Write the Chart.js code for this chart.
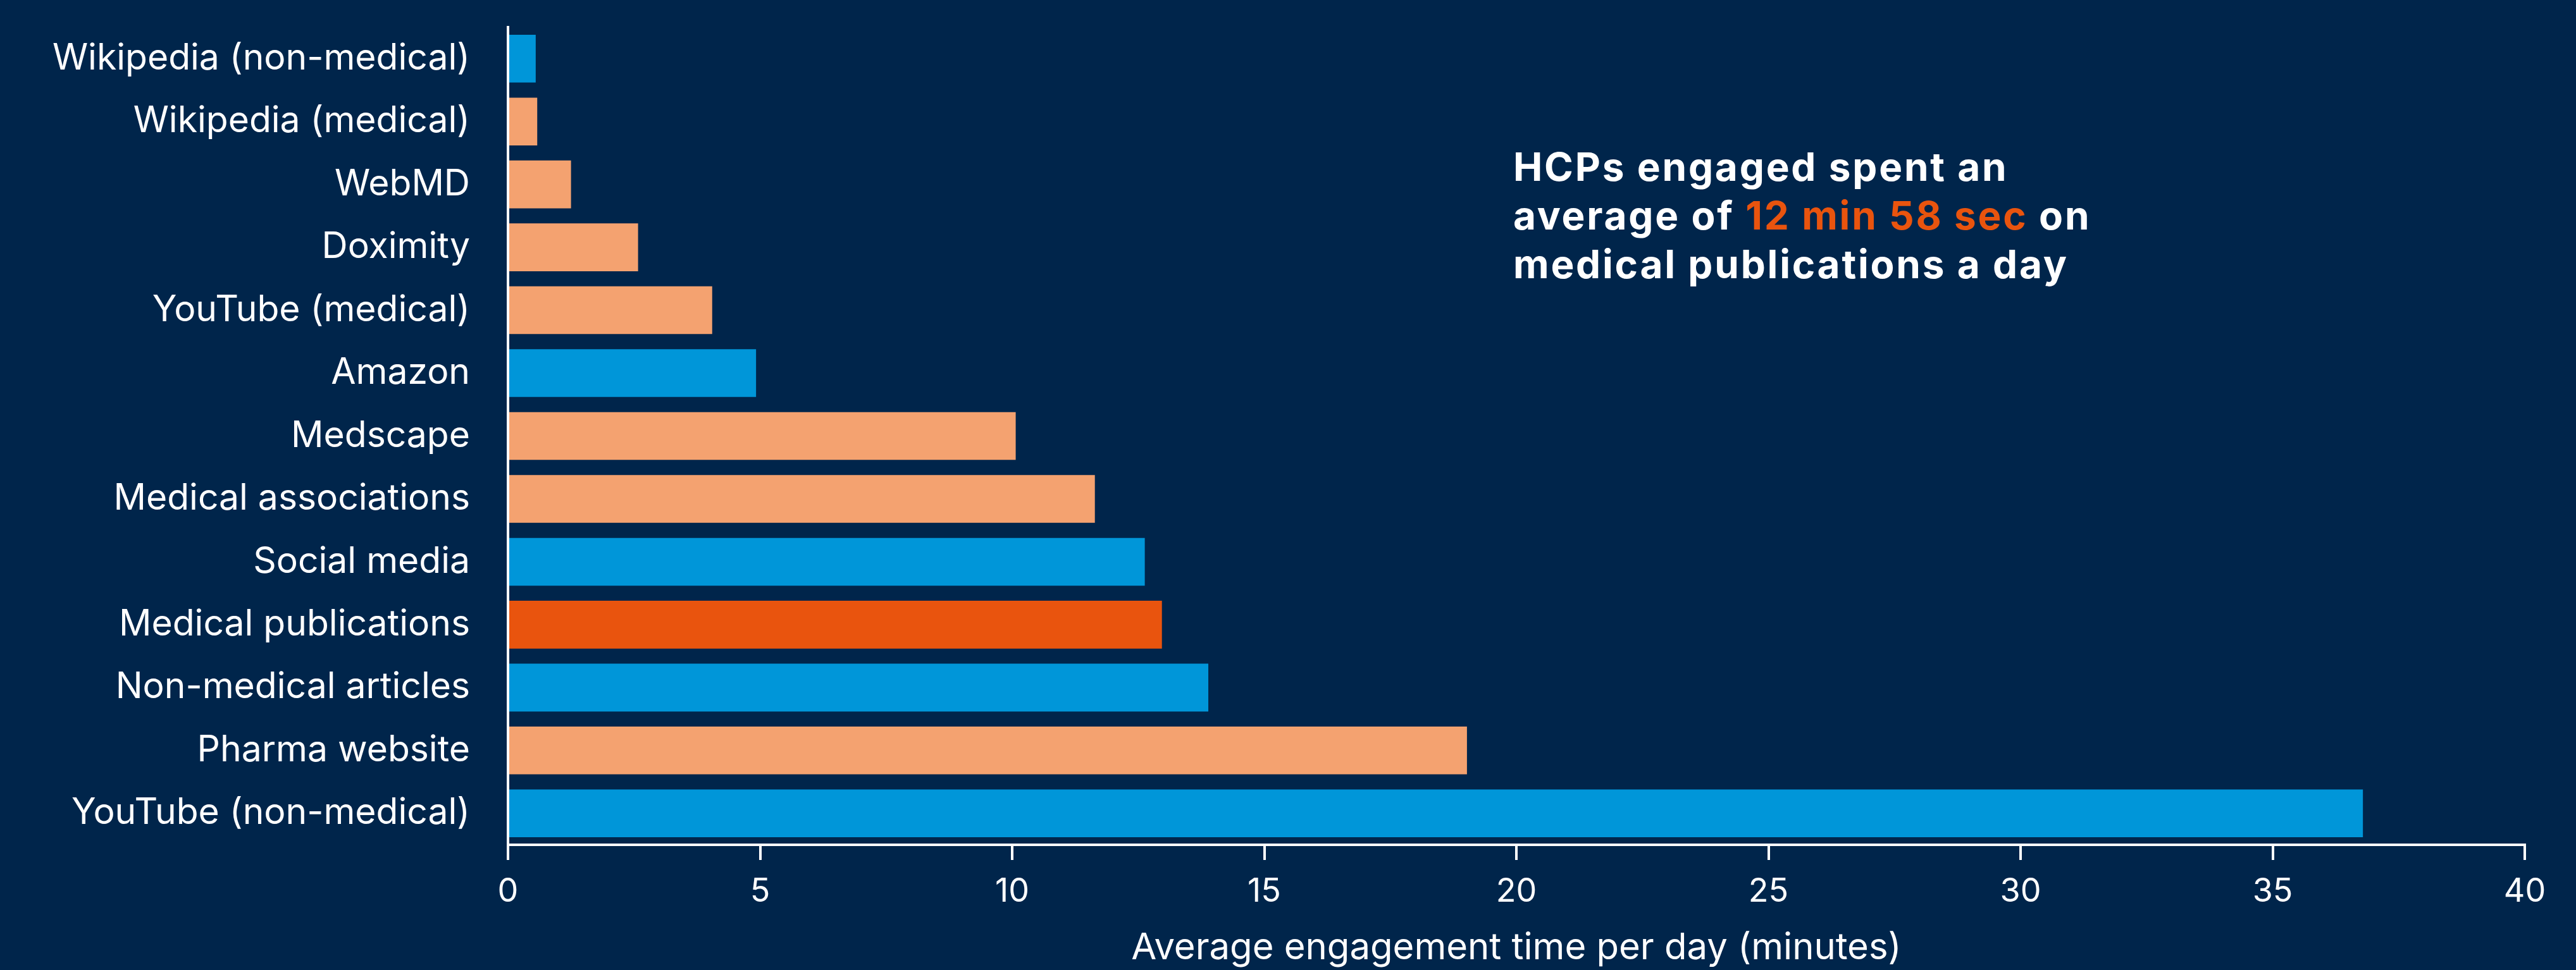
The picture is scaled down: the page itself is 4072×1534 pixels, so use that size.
<!DOCTYPE html>
<html>
<head>
<meta charset="utf-8">
<script src="https://cdn.jsdelivr.net/npm/chart.js@4.4.1/dist/chart.umd.min.js"></script>
<style>
  html, body { margin: 0; padding: 0; background: #00254B; }
  #wrap { position: relative; width: 4072px; height: 1534px; background: #00254B; overflow: hidden; }
  canvas { position: absolute; left: 0; top: 0; }
  #note {
    position: absolute; left: 2392px; top: 225px;
    font-family: Inter, "Open Sans", sans-serif; font-weight: 700;
    font-size: 62px; line-height: 77px; color: #FFFFFF; white-space: nowrap;
    letter-spacing: 2.8px;
  }
  #note .hl { color: #E9540E; }
</style>
</head>
<body>
<div id="wrap">
  <canvas id="c" width="4072" height="1534"></canvas>
  <div id="note">HCPs engaged spent an<br>average of <span class="hl">12 min 58 sec</span> on<br>medical publications a day</div>
</div>
<script>
// ---- data ----
const categories = [
  "Wikipedia (non-medical)",
  "Wikipedia (medical)",
  "WebMD",
  "Doximity",
  "YouTube (medical)",
  "Amazon",
  "Medscape",
  "Medical associations",
  "Social media",
  "Medical publications",
  "Non-medical articles",
  "Pharma website",
  "YouTube (non-medical)"
];
const minutesPerDay = [0.55, 0.58, 1.25, 2.58, 4.05, 4.92, 10.07, 11.64, 12.63, 12.97, 13.89, 19.02, 36.79];
const sourceType = [
  "non-medical", "medical", "medical", "medical", "medical", "non-medical",
  "medical", "medical", "non-medical", "highlight", "non-medical", "medical", "non-medical"
];
const xTickValues = [0, 5, 10, 15, 20, 25, 30, 35, 40];
const xAxisTitle = "Average engagement time per day (minutes)";

// ---- styles ----
const typeColors = { "non-medical": "#0096D9", "medical": "#F4A270", "highlight": "#E9540E" };
const FONT = "Inter, 'Open Sans', sans-serif";

new Chart(document.getElementById("c"), {
  type: "bar",
  data: {
    labels: categories,
    datasets: [{
      data: minutesPerDay,
      backgroundColor: sourceType.map(t => typeColors[t]),
      borderWidth: 0,
      barPercentage: 0.76,
      categoryPercentage: 1.0
    }]
  },
  options: {
    indexAxis: "y",
    responsive: false,
    devicePixelRatio: 1,
    animation: false,
    layout: { padding: { top: 43, right: 81, left: 0, bottom: 0 } },
    plugins: { legend: { display: false }, tooltip: { enabled: false } },
    scales: {
      y: {
        afterFit: s => { s.width = 803; s.paddingTop = 0; s.paddingBottom = 0; },
        grid: { display: false, drawTicks: false },
        border: { display: true, color: "#FFFFFF", width: 4 },
        ticks: {
          color: "#FFFFFF",
          padding: 60,
          font: { family: FONT, size: 57, weight: "400" }
        }
      },
      x: {
        min: 0, max: 40,
        afterFit: s => { s.height = 198; },
        afterBuildTicks: s => { s.ticks = xTickValues.map(v => ({ value: v })); },
        grid: {
          drawOnChartArea: false, drawTicks: true, tickLength: 24,
          color: "#FFFFFF", lineWidth: 4
        },
        border: { display: true, color: "#FFFFFF", width: 4 },
        ticks: {
          color: "#FFFFFF",
          padding: 19,
          maxRotation: 0,
          font: { family: FONT, size: 52, weight: "400" }
        },
        title: {
          display: true,
          text: xAxisTitle,
          color: "#FFFFFF",
          padding: { top: 0, bottom: 0 },
          font: { family: FONT, size: 58, weight: "400" }
        }
      }
    }
  }
});
</script>
</body>
</html>
